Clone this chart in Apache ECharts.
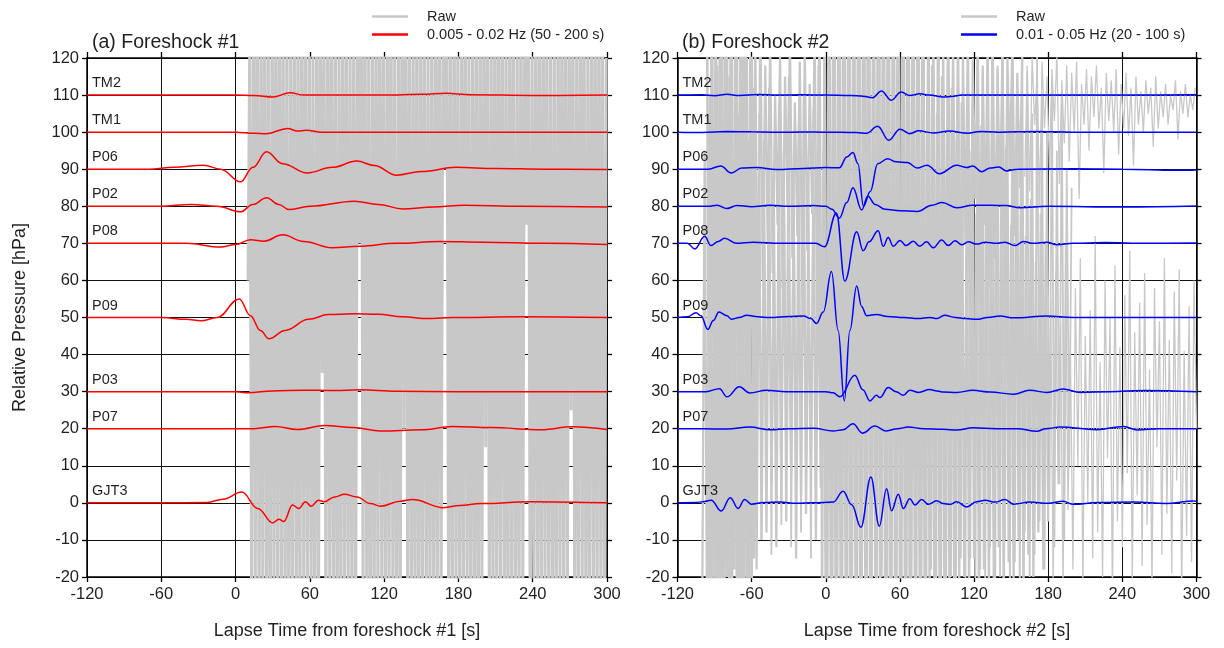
<!DOCTYPE html>
<html>
<head>
<meta charset="utf-8">
<script src="https://cdn.jsdelivr.net/npm/echarts@6/dist/echarts.min.js"></script>
<style>
  html, body { margin: 0; padding: 0; background: #fff; }
  #chart { width: 1224px; height: 648px; }
</style>
</head>
<body>
<div id="chart"></div>
<script>
// Station names and the pressure offset each trace is plotted at [hPa]
const stations  = ['TM2', 'TM1', 'P06', 'P02', 'P08', 'P09', 'P03', 'P07', 'GJT3'];
const baselines = [110, 100, 90, 80, 70, 50, 30, 20, 0];

// Panel texts
const panelTitles = ['(a) Foreshock #1', '(b) Foreshock #2'];
const bandNames   = ['0.005 - 0.02 Hz (50 - 200 s)', '0.01 - 0.05 Hz (20 - 100 s)'];
const xNames      = ['Lapse Time from foreshock #1 [s]', 'Lapse Time from foreshock #2 [s]'];
const yName       = 'Relative Pressure [hPa]';

// ---- Foreshock #1, band-passed 0.005-0.02 Hz: [time s, pressure change hPa] ----
const fa_TM2  = [[-120,0],[-60,0.05],[0,0],[15,-0.1],[30,-0.55],[44,0.65],[55,0],[80,0],[120,0],[150,0.2],[170,0.5],[190,0.1],[240,-0.1],[300,0]];
const fa_TM1  = [[-120,0],[0,0],[15,-0.3],[25,-0.4],[42,1.0],[50,0.3],[57,0.5],[70,0],[120,0],[300,0]];
const fa_P06  = [[-120,0],[-70,0],[-50,0.5],[-26,1.1],[-12,0],[4,-3.4],[14,0.5],[25,4.7],[38,1.5],[58,-1.0],[78,0.5],[98,2.2],[112,1.0],[130,-1.6],[150,-0.6],[178,0.5],[210,0.2],[250,0],[300,-0.1]];
const fa_P02  = [[-120,0],[-60,0],[-36,0.5],[-15,0],[4,-1.5],[14,0.5],[25,2.3],[35,0.5],[43,-0.9],[60,0],[96,1.35],[115,0.5],[135,-0.7],[160,-0.2],[185,0.3],[230,0],[300,-0.2]];
const fa_P08  = [[-120,0],[-40,0],[-12,-1.0],[0,-0.3],[12,1.0],[23,0.6],[38,2.3],[55,0.5],[78,-1.2],[100,-0.8],[130,0],[165,0.5],[200,0.3],[250,0],[300,-0.3]];
const fa_P09  = [[-120,0],[-60,0],[-40,-0.5],[-28,-0.9],[-15,0],[3,5.0],[12,0.5],[20,-3.5],[27,-5.7],[40,-3.5],[59,-0.5],[75,0.8],[95,1.0],[115,0.9],[135,0.2],[155,-0.3],[175,0],[230,0.2],[300,0]];
const fa_P03  = [[-120,0],[0,0],[10,-0.3],[30,0.2],[55,0.4],[80,0.3],[100,0.5],[130,0.1],[180,0],[300,0]];
const fa_P07  = [[-120,0],[0,0],[15,0],[32,0.6],[50,-0.2],[72,0.9],[95,0.3],[117,-0.6],[150,-0.3],[175,0.6],[206,0.3],[247,-0.3],[272,0.5],[300,-0.2]];
const fa_GJT3 = [[-120,0],[-60,0],[-23,0.1],[-10,1.0],[5,2.9],[18,-1.5],[30,-5.4],[35,-4.4],[39,-5.0],[46,-0.6],[51,-1.5],[56.5,0.3],[61,-0.9],[67,0.7],[71.5,0.3],[80,1.6],[88,2.3],[98,1.6],[109,-0.2],[117,-0.9],[133,0.45],[143,0.9],[168,-1.3],[181,-0.7],[198,-0.2],[238,0.3],[300,0]];

// ---- Foreshock #2, band-passed 0.01-0.05 Hz: [time s, pressure change hPa] ----
const fb_TM2  = [[-120,0],[-100,0.1],[-90,-0.15],[-80,0.2],[-70,-0.1],[-55,0.15],[-40,0],[-20,0.1],[0,0],[20,-0.1],[30,-0.3],[38,-0.7],[45,1.1],[53,-1.4],[61,0.8],[68,-0.1],[76,0.35],[84,0],[95,-0.55],[102,-0.4],[110,0],[150,0],[200,0.05],[250,0],[300,0.1]];
const fb_TM1  = [[-120,0],[-100,-0.1],[-80,0.15],[-60,0.1],[-40,-0.05],[-20,0.05],[0,0],[25,-0.1],[33,-0.3],[42,1.6],[51,-2.2],[60,0.8],[68,-0.4],[75,0.35],[87,-0.2],[100,0.3],[115,-0.3],[125,0.2],[140,0],[170,0.15],[200,0],[300,0]];
const fb_P06  = [[-120,0],[-95,0],[-85,0.9],[-76.5,-1.0],[-68,0.3],[-56,0.45],[-40,-0.1],[-18,0.2],[0,0.45],[11,0.4],[17,3.3],[22,4.5],[26,1.5],[30.5,-10],[36,-6],[42,1.5],[50,2.8],[57,2.0],[66,1.8],[74,0.3],[82,1.1],[92,-1.2],[106,1.1],[114,0.45],[119,0.9],[126,-0.7],[133,0.3],[140,0.6],[146,-0.45],[155,0],[200,0.1],[240,0],[284,-0.3],[300,-0.2]];
const fb_P02  = [[-120,0],[-95,0],[-88,0.3],[-80,-0.6],[-72,0.2],[-60,-0.1],[-45,0.3],[-30,0],[-10,0.2],[0,0],[5,-0.8],[11,-3.2],[17,1],[22,5.0],[29,-1.0],[34,2.7],[40,0.5],[48,-0.8],[60,-1.2],[74,-1.4],[86,0.3],[94,1.0],[106,-0.4],[119,0.3],[146,0.2],[157,-0.4],[180,0],[240,-0.2],[300,0.1]];
const fb_P08  = [[-120,0],[-112,0],[-106,-1.5],[-98,1.9],[-93,-0.6],[-87,0.5],[-82,1.35],[-72,0],[-59,0.3],[-37,0],[-8,0],[-1,-0.9],[8.6,8.2],[15.4,-10.2],[25,3.1],[30.3,-2.0],[35,0.4],[42.4,3.4],[46.5,-0.8],[50.5,1.6],[54.6,-0.8],[60,0.8],[65,-0.6],[70.8,0.6],[76,-0.8],[81.6,0.4],[87,-1.2],[93.8,0.9],[99,-0.6],[104.6,0.7],[110,-0.4],[115.4,0.4],[122,-0.2],[129,0.3],[138,0],[145,0.3],[153,-0.6],[160,0.5],[168,0],[179,0.3],[187,-0.4],[200,0],[225,0.2],[260,0],[300,0.1]];
const fb_P09  = [[-120,0],[-112,0.2],[-105,1.3],[-101,0.5],[-95.5,-3.2],[-91,-0.8],[-86.5,1.5],[-80,0.5],[-76.5,-0.45],[-70,0],[-64,0.6],[-55,0.2],[-45,0],[-30,0.3],[-18,0.4],[-12,-0.3],[-7.6,-1.6],[-2,1.5],[4.6,12.4],[10,-3.5],[15,-22.5],[19.5,-3.5],[25,8.5],[29,3],[33,0.5],[41,0.8],[50,0.3],[63,0],[75,-0.3],[84,0],[90,-0.3],[96,0.6],[105,0],[113,-0.3],[122,-0.5],[131,0],[141,0.4],[152,-0.1],[179,0.4],[200,0],[300,0]];
const fb_P03  = [[-120,0],[-97,0],[-86,0.8],[-80,-1.4],[-70,1.3],[-61.6,-0.35],[-48,0.35],[-32,0],[0,0],[6,-0.3],[11.4,-1.4],[23.5,4.4],[30,0.5],[35.7,-2.5],[41,-1.0],[43.8,-1.6],[50.5,1.1],[57,0],[62.7,-1.0],[68,0.4],[75,-0.2],[84,0.55],[90,0.2],[95,-0.1],[106,-0.2],[119,0.35],[133,-0.1],[152,-0.7],[165,0.35],[179,-0.2],[192,0.7],[206,-0.2],[230,0],[257,0.3],[300,0]];
const fb_P07  = [[-120,0],[-100,0],[-80,-0.1],[-61.6,0.45],[-45,-0.3],[-30,0],[-10,0.1],[6,-0.6],[14,-0.3],[22,1.35],[29.7,-1.2],[39.7,0.7],[49,-0.6],[58,0],[66.8,0.45],[79,0],[95,-0.15],[106,-0.35],[119,0.25],[138,0],[155,0],[170.8,-0.7],[178,0],[189.7,0.45],[219,-0.25],[241,0.6],[252,-0.35],[270,0],[300,0]];
const fb_GJT3 = [[-120,0],[-105,0.1],[-99.5,0.3],[-92.7,0.7],[-84.6,-2.2],[-77.3,1.4],[-71,-1.5],[-65.7,0.9],[-60.3,-0.35],[-50,0.1],[-37,0.2],[-24,-0.1],[-10,0],[6,0.2],[14,3.1],[21,-0.5],[28.4,-6.6],[36.5,7.0],[43.3,-6.3],[49.2,3.8],[53.2,-2.1],[58.7,2.3],[62.7,-1.5],[68,1.1],[72.2,-0.6],[77.6,0.9],[83,-0.4],[89.7,0.6],[95,-0.2],[100.5,-0.4],[106,0.3],[114,-1.1],[122,0.3],[129,0.7],[137,0.2],[145,0.9],[152,-0.35],[165,0.2],[180,-0.1],[192,0.4],[200.5,-0.4],[220,0.1],[250,0.2],[275,-0.2],[298,0.5],[300,0.4]];

// ---- Raw (unfiltered) records, sampled at a fixed step from a start time ----
// Foreshock #1: all stations saturate the plotted range after the shaking arrives
const rawA_start = 10, rawA_step = 1.5;
const rawA = [60,130,-40,148,-25,162,-55,139,-33,171,-48,127,-61,155,-29,143,-52,168,-37,133,
  -44,150,-66,129,-31,158,-47,141,-58,166,-26,137,-49,152,-35,124,-63,160,-42,147,
  35,131,-54,169,-30,138,-45,156,-60,126,-38,163,-51,144,-27,135,-57,159,-43,130,
  70,149,-34,165,-50,128,-62,153,-39,142,-46,167,-28,134,-55,151,-41,161,-32,125,
  -59,146,-48,170,20,139,-36,157,-53,132,-44,164,-65,136,-30,154,-50,127,-40,150,
  -57,145,-35,168,-47,131,90,158,-38,140,-61,162,-29,133,-52,149,-43,166,-34,126,
  -56,155,-45,143,-67,160,-31,137,15,152,-49,129,-39,169,-54,141,-28,157,-46,134,
  -60,163,-37,147,-51,128,-42,165,-33,138,75,154,-58,130,-44,160,-36,144,-63,167,
  -27,135,-50,151,-40,126,-55,158,-32,142,-47,170,-38,131,25,148,-53,137,-45,164,
  -30,153,-59,129,-41,156,-35,145,-48,161,-33,136,-52,120];

// Foreshock #2: upper-station record, strong part and coda
const rawB_hi_start = -93, rawB_hi_step = 2;
const rawB_hi = [132,45,138,30,126,52,141,25,129,40,135,35,128,48,137,28,131,55,124,38,133,60,
  118,70,124,62,110,75,121,58,115,80,125,66,108,72,119,55,122,68,113,78,126,50,
  135,-30,140,-25,130,-35,145,-20,128,-40,138,10,132,-28,142,-22,129,-33,136,40,140,-26,131,-38,
  144,-18,127,20,139,-31,133,-24,141,5,126,-36,137,-15,130,30,143,-27,128,15,135,-10,132,25,138,0,125,35,134,
  45,124,60,128,38,121,70,126,50,119,82,125,42,118,75,123,58,127,66,117,80,122,55,120,90,124,72,116,85,121];
const rawB_hiCoda_start = 161, rawB_hiCoda_step = 2;
const rawB_hiCoda = [88,118,84,120,102,116,80,119,101,115,90,117,103,121,86,114,97,118,92,116,100,119,82,113,102,117,95,115,104,118,
  101,112,89,116,103,114,100,117,94,113,101,116,99,112,91,115,102,111,100,114,105,112,96,115,101,111,104,113,102,110,
  106,114,98,111,105,113,104,110,106,112];

// Foreshock #2: lower-station record, strong part and coda
const rawB_lo_start = -100, rawB_lo_step = 2;
const rawB_lo = [-30,95,-40,110,-25,88,-45,120,-35,100,-20,115,-42,92,-28,105,-38,125,-22,98,-33,112,-18,90,-10,
  70,-8,85,5,62,-12,78,0,90,-5,66,8,80,-15,74,2,88,-3,60,10,82,-10,72,4,95,
  -35,130,-28,138,-40,125,-30,140,-25,132,-38,127,-22,135,-45,129,-26,142,-33,120,-20,136,-36,128,-30,139,-42,124,
  -24,133,-31,130,-27,137,-39,122,-21,134,-34,126,-29,110,-25,118,-35,105,-22,115,-30,100,-26,112,-32,98,-24,108,
  -20,85,-28,95,-15,78,-30,102,-18,88,-25,70,-22,92,-12,80,-27,96,-16,75,-23,86,-10,90,-26,72,-14,82,-20,65,-8,78,-18,70,-5];
const rawB_loCoda_start = 182, rawB_loCoda_step = 2;
const rawB_loCoda = [55,-22,62,5,48,-25,70,-2,40,-18,58,10,66,-24,45,0,52,-15,72,-8,38,-20,60,12,50,-26,64,-5,42,-12,
  56,8,68,-22,46,2,54,-17,62,-6,36,-23,58,15,49,-14,66,-3,44,-19,57,6,63,-25,41,-9,53,-16,60,20];

// Foreshock #2: middle stations
const rawB_m1_start = -96, rawB_m1_step = 2;
const rawB_m1 = [125,-30,132,-22,118,-38,140,-26,128,-35,122,-18,136,-40,130,-24,120,-32,127,-15,60];
const rawB_m2_start = 1, rawB_m2_step = 2;
const rawB_m2 = [-32,134,-26,140,-37,128,-21,137,-44,131,-28,126,-35,143,-23,130,-39,136,-27,124,
  -33,139,-20,133,-41,127,-29,138,-25,129,-36,135,-22,141,-30,125,-38,132,-26,120,
  -34,128,-18,115,-30,122,-24,110,-28,118,-20,104,-26,112,-15,100];
const rawB_m3_start = -54, rawB_m3_step = 2;
const rawB_m3 = [105,-10,98,5,112,-14,90,0,108,-6,95,12,115,-12,88,3,102,-8,110,8,92,-15,106,-2,118,4,100,-12];
const rawB_m4_start = 113, rawB_m4_step = 2;
const rawB_m4 = [-22,128,-15,120,-28,132,-18,115,-25,126,-12,122,-30,118,-20,130,-10,112,-24,124,-16,108,
  -26,120,-8,116,-20,105,-14,122,-5,110,-18,100,0,114,-12,95,5,108,-10,90,10,85];

const filteredA = [fa_TM2, fa_TM1, fa_P06, fa_P02, fa_P08, fa_P09, fa_P03, fa_P07, fa_GJT3];
const filteredB = [fb_TM2, fb_TM1, fb_P06, fb_P02, fb_P08, fb_P09, fb_P03, fb_P07, fb_GJT3];

const FONT = '"Liberation Sans", Arial, Helvetica, sans-serif';
const INK = '#231f20';
const RAW_COLOR = '#c8c8c8';
const bandColors = ['#ff0000', '#0000ff'];

function rawSeries(values, start, step, axis, width) {
  return {
    type: 'line', name: 'Raw', xAxisIndex: axis, yAxisIndex: axis,
    data: values.map((v, i) => [start + i * step, v]),
    symbol: 'none', clip: true, silent: true, z: 2,
    lineStyle: { color: RAW_COLOR, width: width },
    itemStyle: { color: RAW_COLOR }
  };
}

function bandSeries(pairs, base, axis, color, name) {
  return {
    type: 'line', name: name, xAxisIndex: axis, yAxisIndex: axis,
    data: pairs.map(p => [p[0], p[1] + base]),
    symbol: 'none', smooth: 0.4, smoothMonotone: 'x', clip: true, silent: true, z: 5,
    lineStyle: { color: color, width: 1.5 },
    itemStyle: { color: color }
  };
}

function labelSeries(axis) {
  return {
    type: 'scatter', xAxisIndex: axis, yAxisIndex: axis, silent: true, z: 6,
    symbolSize: 0, itemStyle: { opacity: 1 },
    data: stations.map((s, i) => ({ value: [-120, baselines[i]], name: s })),
    label: {
      show: true, position: 'right', distance: 5, offset: [0, -12], opacity: 1,
      formatter: p => p.name, color: INK, fontFamily: FONT, fontSize: 14.5
    }
  };
}

const gridDefs = [
  { left: 87, top: 58, width: 520, height: 519 },
  { left: 677.5, top: 58, width: 519, height: 519 }
];

const xAxes = [], yAxes = [];
gridDefs.forEach((g, k) => {
  xAxes.push({
    type: 'value', gridIndex: k, position: 'bottom', min: -120, max: 300, interval: 60,
    name: xNames[k], nameLocation: 'middle', nameGap: 45,
    nameTextStyle: { fontFamily: FONT, fontSize: 18, color: INK },
    axisLine: { show: true, onZero: false, lineStyle: { color: '#000', width: 1.5 } },
    axisTick: { show: true, inside: false, length: 5, lineStyle: { color: '#000', width: 1.3 } },
    axisLabel: { fontFamily: FONT, fontSize: 16.5, color: INK, margin: 9 },
    splitLine: { show: true, lineStyle: { color: '#111', width: 1 } }
  });
  xAxes.push({
    type: 'value', gridIndex: k, position: 'top', min: -120, max: 300, interval: 60,
    axisLine: { show: true, onZero: false, lineStyle: { color: '#000', width: 1.5 } },
    axisTick: { show: true, inside: false, length: 6, lineStyle: { color: '#000', width: 1.3 } },
    axisLabel: { show: false }, splitLine: { show: false }
  });
  yAxes.push({
    type: 'value', gridIndex: k, position: 'left', min: -20, max: 120, interval: 10,
    name: k === 0 ? yName : '', nameLocation: 'middle', nameGap: 58, nameRotate: 90,
    nameTextStyle: { fontFamily: FONT, fontSize: 18, color: INK },
    axisLine: { show: true, onZero: false, lineStyle: { color: '#000', width: 1.5 } },
    axisTick: { show: true, inside: false, length: 5, lineStyle: { color: '#000', width: 1.3 } },
    axisLabel: { fontFamily: FONT, fontSize: 16.5, color: INK, margin: 8 },
    splitLine: { show: true, lineStyle: { color: '#111', width: 1 } }
  });
  yAxes.push({
    type: 'value', gridIndex: k, position: 'right', min: -20, max: 120, interval: 10,
    axisLine: { show: true, onZero: false, lineStyle: { color: '#000', width: 1.5 } },
    axisTick: { show: true, inside: false, length: 5, lineStyle: { color: '#000', width: 1.3 } },
    axisLabel: { show: false }, splitLine: { show: false }
  });
});

const series = [];
// panel (a)
series.push(rawSeries(rawA, rawA_start, rawA_step, 0, 2.8));
filteredA.forEach((d, i) => series.push(bandSeries(d, baselines[i], 0, bandColors[0], bandNames[0])));
series.push(labelSeries(0));
// panel (b)
series.push(rawSeries(rawB_lo, rawB_lo_start, rawB_lo_step, 2, 2.3));
series.push(rawSeries(rawB_hi, rawB_hi_start, rawB_hi_step, 2, 2.3));
series.push(rawSeries(rawB_loCoda, rawB_loCoda_start, rawB_loCoda_step, 2, 1.3));
series.push(rawSeries(rawB_hiCoda, rawB_hiCoda_start, rawB_hiCoda_step, 2, 1.3));
series.push(rawSeries(rawB_m1, rawB_m1_start, rawB_m1_step, 2, 2.6));
series.push(rawSeries(rawB_m2, rawB_m2_start, rawB_m2_step, 2, 2.6));
series.push(rawSeries(rawB_m3, rawB_m3_start, rawB_m3_step, 2, 1.8));
series.push(rawSeries(rawB_m4, rawB_m4_start, rawB_m4_step, 2, 1.8));
filteredB.forEach((d, i) => series.push(bandSeries(d, baselines[i], 2, bandColors[1], bandNames[1])));
series.push(labelSeries(2));

const legendBase = {
  orient: 'vertical', top: 4, icon: 'rect', itemWidth: 36, itemHeight: 2.5, itemGap: 3,
  selectedMode: false,
  textStyle: { fontFamily: FONT, fontSize: 14.5, color: INK, padding: [0, 0, 0, 14] }
};

const chart = echarts.init(document.getElementById('chart'), null, { renderer: 'canvas' });
chart.setOption({
  animation: false,
  backgroundColor: '#fff',
  title: panelTitles.map((t, k) => ({
    text: t, left: k === 0 ? 92 : 682, top: 33, padding: 0,
    textStyle: { fontFamily: FONT, fontSize: 19.5, fontWeight: 'normal', color: INK }
  })),
  legend: [
    Object.assign({}, legendBase, { left: 367, data: ['Raw', bandNames[0]] }),
    Object.assign({}, legendBase, { left: 956, data: ['Raw', bandNames[1]] })
  ],
  grid: gridDefs,
  xAxis: xAxes,
  yAxis: yAxes,
  series: series
});
</script>
</body>
</html>
